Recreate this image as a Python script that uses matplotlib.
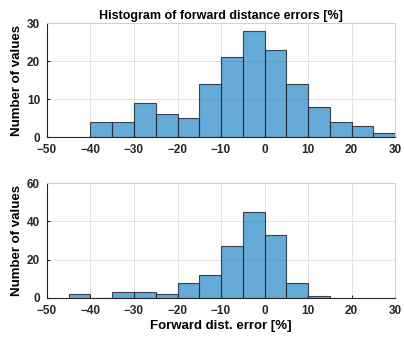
import numpy as np
import matplotlib; matplotlib.use("Agg")
import matplotlib.pyplot as plt

plt.rcParams["font.family"] = ["Liberation Sans", "DejaVu Sans"]
plt.rcParams["font.weight"] = "bold"

# top panel: bin edges -40..30 step 5
top_edges = [-40, -35, -30, -25, -20, -15, -10, -5, 0, 5, 10, 15, 20, 25, 30]
top_counts = [4, 4, 9, 6, 5, 14, 21, 28, 23, 14, 8, 4, 3, 1]
# bottom panel: bin edges -45..15 step 5
bot_edges = [-45, -40, -35, -30, -25, -20, -15, -10, -5, 0, 5, 10, 15]
bot_counts = [2, 0, 3, 3, 2, 8, 12, 27, 45, 33, 8, 1]

xticks = [-50, -40, -30, -20, -10, 0, 10, 20, 30]
face = (0.0, 0.447, 0.741, 0.6)
edge = (0.15, 0.15, 0.2, 0.85)

fig = plt.figure(figsize=(4.04, 3.42), dpi=100)
ax1 = fig.add_axes([47/404, 1 - 137/342, 348/404, 114/342])
ax2 = fig.add_axes([47/404, 1 - 298/342, 348/404, 115/342])

def style(ax, yticks):
    ax.set_xlim(-50, 30)
    ax.set_xticks(xticks)
    ax.set_yticks(yticks)
    ax.set_ylim(yticks[0], yticks[-1])
    ax.grid(True, color="#e3e3e3", linewidth=0.7)
    ax.set_axisbelow(True)
    for s in ["top", "right"]:
        ax.spines[s].set_color("#d0d0d0")
    for s in ["left", "bottom"]:
        ax.spines[s].set_color("#262626")
    ax.tick_params(labelsize=8.5, length=2, direction="in", pad=5, colors="#262626")
    ax.set_ylabel("Number of values", fontsize=9.5, fontweight="bold", labelpad=3)

ax1.hist(top_edges[:-1], bins=top_edges, weights=top_counts, facecolor=face,
         edgecolor=edge, linewidth=0.8)
style(ax1, [0, 10, 20, 30])
ax1.set_title("Histogram of forward distance errors [%]", fontsize=9, fontweight="bold", pad=3)

ax2.hist(bot_edges[:-1], bins=bot_edges, weights=bot_counts, facecolor=face,
         edgecolor=edge, linewidth=0.8)
style(ax2, [0, 20, 40, 60])
ax2.set_xlabel("Forward dist. error [%]", fontsize=9.5, fontweight="bold", labelpad=2)

fig.savefig("out.png", dpi=100)
